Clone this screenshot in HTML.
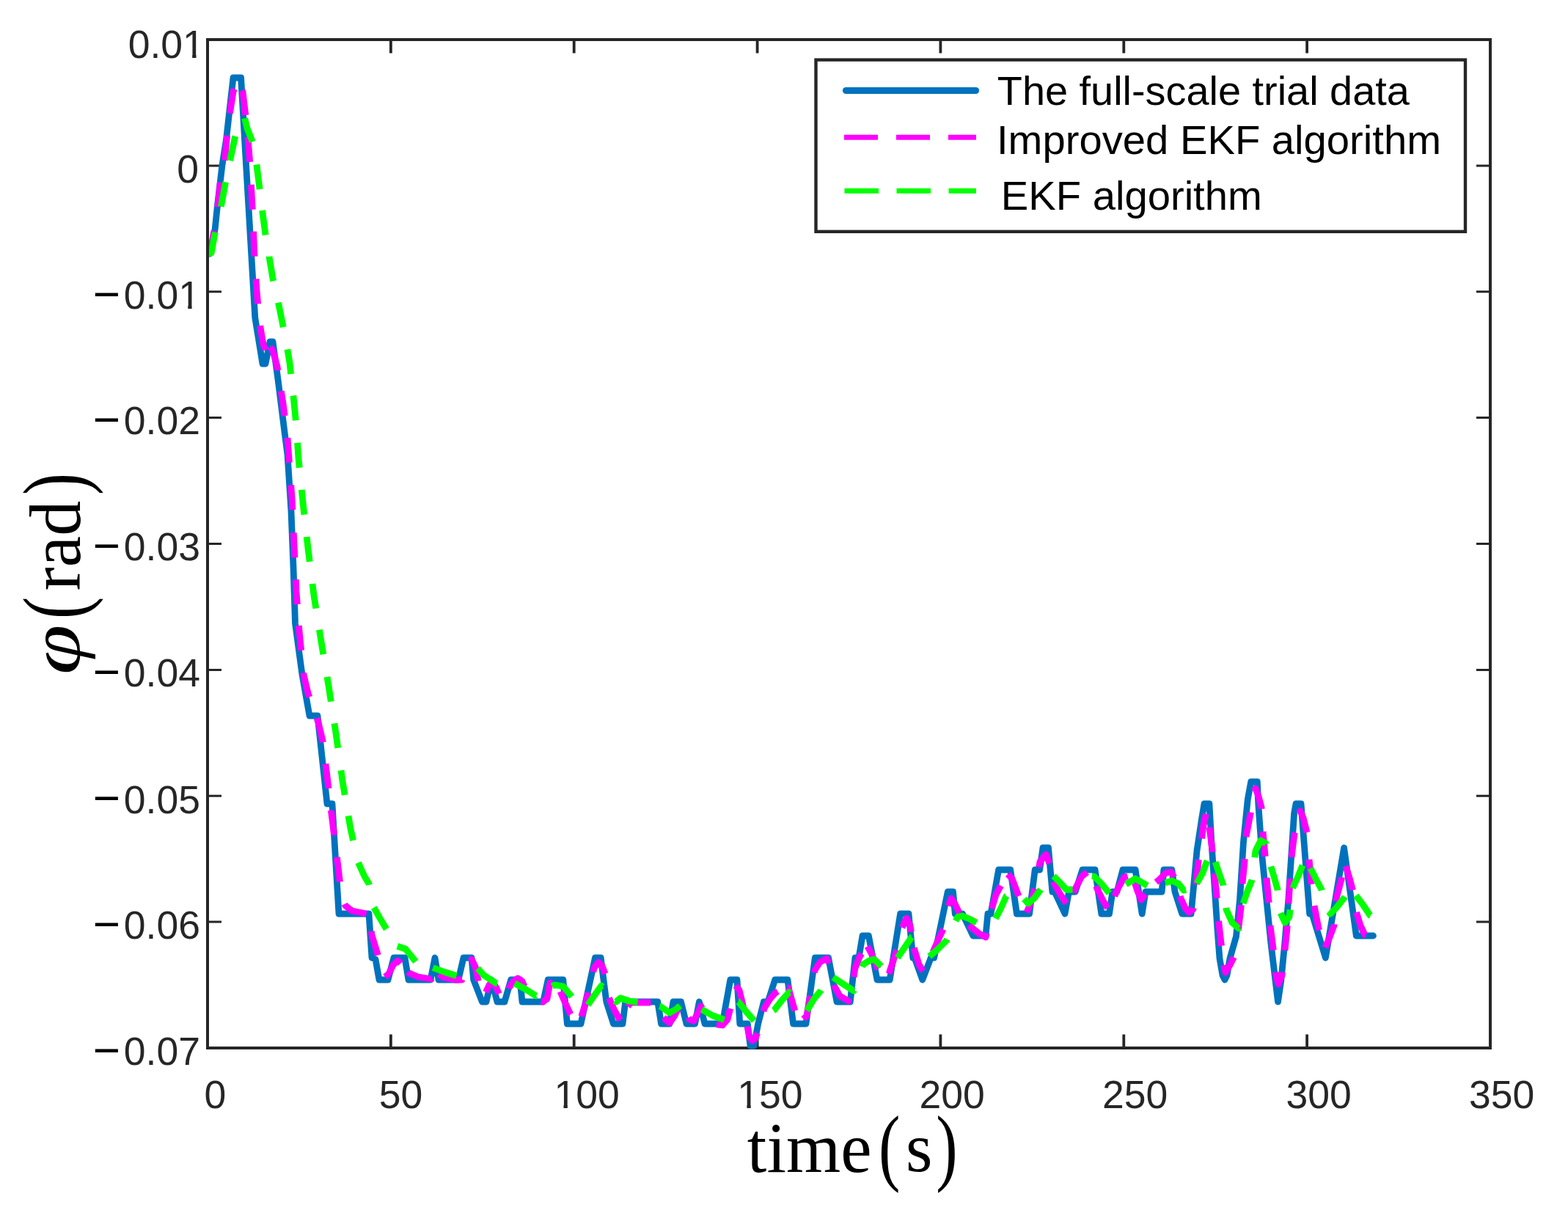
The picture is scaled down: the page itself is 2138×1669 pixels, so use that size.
<!DOCTYPE html>
<html><head><meta charset="utf-8"><title>phi vs time</title>
<style>html,body{margin:0;padding:0;background:#fff;width:2138px;height:1669px;overflow:hidden}svg{display:block}</style></head><body>
<svg width="2138" height="1669" viewBox="0 0 2138 1669">
<rect x="0" y="0" width="2138" height="1669" fill="#ffffff"/>
<path d="M283.0 1429V1410.5M283.0 54V72.5M532.9 1429V1410.5M532.9 54V72.5M782.7 1429V1410.5M782.7 54V72.5M1032.6 1429V1410.5M1032.6 54V72.5M1282.4 1429V1410.5M1282.4 54V72.5M1532.3 1429V1410.5M1532.3 54V72.5M1782.1 1429V1410.5M1782.1 54V72.5M2032.0 1429V1410.5M2032.0 54V72.5" stroke="#262626" stroke-width="3.8" fill="none"/>
<path d="M283 54.0H302M2032 54.0H2013M283 225.9H302M2032 225.9H2013M283 397.8H302M2032 397.8H2013M283 569.6H302M2032 569.6H2013M283 741.5H302M2032 741.5H2013M283 913.4H302M2032 913.4H2013M283 1085.2H302M2032 1085.2H2013M283 1257.1H302M2032 1257.1H2013M283 1429.0H302M2032 1429.0H2013" stroke="#262626" stroke-width="3" fill="none"/>
<rect x="283" y="54" width="1749" height="1375" fill="none" stroke="#262626" stroke-width="4"/>
<defs><clipPath id="cp"><rect x="283" y="52" width="1751" height="1379"/></clipPath></defs>
<g clip-path="url(#cp)" fill="none" stroke-linejoin="round">
<path d="M283.0 346.0L286.0 346.0L289.0 333.0L293.2 312.4L296.3 281.8L299.9 251.3L302.9 225.8L308.5 190.2L313.0 150.0L318.0 106.0L328.6 106.0L347.8 433.4L358.0 496.0L362.0 496.0L368.0 466.0L372.0 466.0L379.3 519.6L388.3 591.5L392.0 620.0L397.0 697.0L400.0 773.0L402.5 850.0L412.0 920.0L422.0 976.0L433.0 976.0L446.0 1096.0L453.0 1096.0L462.0 1246.0L503.0 1246.0L507.0 1306.0L512.0 1308.0L517.0 1336.0L529.0 1336.0L537.0 1306.0L552.0 1306.0L557.0 1336.0L587.0 1336.0L593.0 1306.0L598.0 1336.0L625.0 1336.0L632.0 1306.0L643.0 1306.0L645.7 1336.0L657.4 1366.0L663.0 1366.0L670.0 1336.0L678.0 1366.0L688.0 1366.0L696.7 1336.0L709.0 1336.0L712.0 1366.0L740.7 1366.0L747.2 1336.0L767.8 1336.0L773.4 1396.0L792.0 1396.0L811.5 1306.0L819.2 1306.0L826.8 1366.0L836.4 1396.0L849.0 1396.0L852.7 1366.0L896.8 1366.0L901.6 1396.0L913.0 1396.0L918.0 1366.0L928.5 1366.0L936.0 1396.0L947.6 1396.0L953.4 1366.0L961.0 1396.0L985.0 1396.0L995.8 1336.0L1005.0 1336.0L1008.8 1396.0L1019.3 1396.0L1023.0 1426.0L1028.0 1426.0L1033.7 1396.0L1041.4 1366.0L1047.0 1366.0L1056.7 1336.0L1074.0 1336.0L1081.6 1396.0L1099.0 1396.0L1111.3 1306.0L1129.6 1306.0L1141.0 1366.0L1159.3 1366.0L1166.0 1306.0L1171.0 1306.0L1176.0 1276.0L1184.4 1276.0L1196.0 1336.0L1213.2 1336.0L1227.6 1246.0L1239.0 1246.0L1244.8 1306.0L1247.0 1306.0L1257.8 1336.0L1269.3 1306.0L1273.6 1306.0L1292.3 1216.0L1299.5 1216.0L1302.3 1246.0L1312.4 1246.0L1326.8 1276.0L1344.0 1276.0L1346.9 1246.0L1351.0 1246.0L1361.6 1186.0L1377.7 1186.0L1386.4 1246.0L1403.6 1246.0L1411.2 1186.0L1417.6 1186.0L1422.0 1156.0L1429.5 1156.0L1434.9 1216.0L1438.0 1216.0L1452.0 1246.0L1457.5 1216.0L1466.2 1216.0L1475.9 1186.0L1493.1 1186.0L1501.8 1246.0L1512.5 1246.0L1516.9 1216.0L1523.0 1216.0L1530.9 1186.0L1548.1 1186.0L1557.2 1246.0L1562.0 1216.0L1584.1 1216.0L1586.9 1186.0L1597.9 1186.0L1602.0 1216.0L1611.7 1246.0L1624.1 1246.0L1628.0 1204.0L1632.0 1160.0L1638.5 1117.0L1642.0 1096.0L1648.9 1096.0L1652.0 1150.0L1656.0 1208.0L1660.0 1268.0L1663.0 1307.0L1667.0 1330.0L1670.0 1336.0L1673.0 1330.0L1677.0 1307.0L1685.5 1277.0L1690.4 1228.0L1695.4 1149.0L1701.3 1090.0L1705.7 1066.0L1714.3 1066.0L1716.0 1100.0L1721.0 1169.0L1727.0 1228.0L1733.0 1287.0L1739.0 1337.0L1742.5 1366.0L1746.8 1337.0L1751.7 1287.0L1756.7 1228.0L1760.6 1169.0L1764.6 1109.0L1767.0 1096.0L1774.0 1096.0L1785.6 1246.0L1789.0 1246.0L1807.4 1306.0L1832.6 1156.0L1849.3 1276.0L1872.5 1276.0" stroke="#0072BD" stroke-width="8.8" stroke-linecap="round"/>
<g stroke="#FF00FF" stroke-width="8.8" stroke-linecap="butt">
<path d="M283.0 346.0L287.0 344.0L291.0 320.0L296.8 282.3" stroke-dasharray="34.0 32.9"/>
<path d="M296.8 282.3L296.8 282.0L300.4 249.0L306.5 219.0L306.5 218.7" stroke-dasharray="34.0 30.4"/>
<path d="M306.5 218.7L309.5 186.0L313.4 154.5" stroke-dasharray="34.0 30.6"/>
<path d="M313.4 154.5L313.5 154.0L318.0 125.0L325.0 109.0L330.3 123.3" stroke-dasharray="34.0 28.5"/>
<path d="M330.3 123.3L331.0 125.0L337.0 175.0L337.9 186.9" stroke-dasharray="34.0 30.1"/>
<path d="M337.9 186.9L341.0 225.0L342.4 251.7" stroke-dasharray="34.0 31.0"/>
<path d="M342.4 251.7L345.0 300.0L345.6 315.6" stroke-dasharray="34.0 30.0"/>
<path d="M345.6 315.6L347.0 350.0L349.0 380.4" stroke-dasharray="34.0 30.9"/>
<path d="M349.0 380.4L350.0 396.0L354.0 440.0L354.7 444.1" stroke-dasharray="34.0 30.0"/>
<path d="M354.7 444.1L359.0 470.0L363.0 478.0L367.0 471.0L368.5 473.1" stroke-dasharray="34.0 11.9"/>
<path d="M368.5 473.1L372.0 478.0L378.0 500.0L383.3 533.3" stroke-dasharray="34.0 28.5"/>
<path d="M383.3 533.3L386.0 550.0L392.0 596.9" stroke-dasharray="34.0 30.2"/>
<path d="M392.0 596.9L392.0 597.0L395.0 640.0L396.7 661.3" stroke-dasharray="34.0 30.5"/>
<path d="M396.7 661.3L398.0 678.0L400.3 726.4" stroke-dasharray="34.0 31.2"/>
<path d="M400.3 726.4L401.0 742.0L403.3 790.2" stroke-dasharray="34.0 29.9"/>
<path d="M403.3 790.2L404.0 806.0L407.5 853.0" stroke-dasharray="34.0 29.0"/>
<path d="M407.5 853.0L408.0 860.0L413.7 917.4" stroke-dasharray="34.0 30.7"/>
<path d="M413.7 917.4L414.0 920.0L420.0 945.0L428.0 968.0L432.0 979.2" stroke-dasharray="34.0 30.5"/>
<path d="M432.0 979.2L434.0 985.0L440.0 1010.0L443.9 1041.5" stroke-dasharray="34.0 29.6"/>
<path d="M443.9 1041.5L446.0 1058.0L451.4 1105.0" stroke-dasharray="34.0 29.9"/>
<path d="M451.4 1105.0L452.0 1110.0L457.0 1150.0L459.4 1168.8" stroke-dasharray="34.0 30.4"/>
<path d="M459.4 1168.8L462.0 1190.0L466.0 1225.0L469.9 1232.7" stroke-dasharray="34.0 31.2"/>
<path d="M469.9 1232.7L471.0 1235.0L480.0 1242.0L495.0 1245.0L503.0 1247.0L506.3 1269.8" stroke-dasharray="34.0 26.5"/>
<path d="M506.3 1269.8L507.0 1275.0L514.0 1298.0L520.0 1318.0L525.0 1332.0" stroke-dasharray="34.0 31.0"/>
<path d="M525.0 1332.0L525.0 1332.0L530.0 1328.0L536.0 1316.0L542.0 1310.0L546.0 1313.0L552.0 1320.0L556.5 1325.2" stroke-dasharray="34.0 15.4"/>
<path d="M556.5 1325.2L558.0 1327.0L570.0 1332.0L588.0 1335.0L593.0 1318.0L598.0 1328.0L598.2 1328.1" stroke-dasharray="34.0 28.7"/>
<path d="M598.2 1328.1L605.0 1333.0L620.0 1336.0L630.0 1336.0L637.0 1318.0L641.6 1310.3" stroke-dasharray="34.0 28.0"/>
<path d="M641.6 1310.3L643.0 1308.0L648.0 1318.0L652.0 1337.0L657.0 1358.0L661.0 1356.0L662.5 1352.8" stroke-dasharray="34.0 28.8"/>
<path d="M662.5 1352.8L667.0 1343.0L672.0 1340.0L677.0 1347.0L682.0 1360.0L686.0 1366.0L690.0 1358.0L693.6 1348.0" stroke-dasharray="34.0 31.9"/>
<path d="M693.6 1348.0L694.0 1347.0L700.0 1338.0L706.0 1334.0L712.0 1338.0L718.0 1352.0L728.0 1362.0L738.0 1365.3" stroke-dasharray="34.0 32.3"/>
<path d="M738.0 1365.3L740.0 1366.0L746.0 1362.0L750.0 1340.0L755.0 1343.0L763.0 1350.0L763.9 1352.1" stroke-dasharray="34.0 16.4"/>
<path d="M763.9 1352.1L770.0 1366.0L778.0 1383.0L786.0 1390.0L792.0 1388.0L792.7 1386.0" stroke-dasharray="34.0 19.0"/>
<path d="M792.7 1386.0L798.0 1370.0L804.0 1345.0L808.8 1325.2" stroke-dasharray="34.0 28.9"/>
<path d="M808.8 1325.2L810.0 1320.0L816.0 1312.0L821.0 1317.0L826.0 1330.0L830.0 1360.0L830.4 1360.8" stroke-dasharray="34.0 33.5"/>
<path d="M830.4 1360.8L838.0 1378.0L846.0 1392.0L852.0 1378.0L856.1 1372.4" stroke-dasharray="34.0 23.1"/>
<path d="M856.1 1372.4L860.0 1367.0L890.0 1367.0L896.0 1372.0L903.0 1386.0L904.7 1387.5" stroke-dasharray="34.0 28.4"/>
<path d="M904.7 1387.5L913.0 1395.0L920.0 1385.0L927.0 1370.0L932.0 1376.0L938.7 1387.7" stroke-dasharray="34.0 27.2"/>
<path d="M938.7 1387.7L940.0 1390.0L946.0 1392.0L952.0 1380.0L956.0 1372.0L962.0 1385.0L970.0 1396.0L977.0 1396.9" stroke-dasharray="34.0 32.3"/>
<path d="M977.0 1396.9L985.0 1398.0L992.0 1390.0L997.0 1370.0L1003.0 1344.0" stroke-dasharray="34.0 32.0"/>
<path d="M1003.0 1344.0L1003.0 1344.0L1008.0 1350.0L1012.0 1366.0L1018.0 1395.0L1018.9 1399.6" stroke-dasharray="34.0 24.6"/>
<path d="M1018.9 1399.6L1022.0 1415.0L1026.0 1419.0L1030.0 1416.0L1034.0 1405.0L1041.0 1378.9" stroke-dasharray="34.0 31.0"/>
<path d="M1041.0 1378.9L1042.0 1375.0L1050.0 1362.0L1057.0 1354.0L1065.0 1349.0L1073.5 1347.3" stroke-dasharray="34.0 14.0"/>
<path d="M1073.5 1347.3L1075.0 1347.0L1080.0 1365.0L1085.0 1382.0L1095.0 1390.0L1095.5 1389.5" stroke-dasharray="34.0 17.5"/>
<path d="M1095.5 1389.5L1100.0 1385.0L1106.0 1350.0L1110.4 1326.3" stroke-dasharray="34.0 32.0"/>
<path d="M1110.4 1326.3L1111.0 1323.0L1118.0 1312.0L1127.0 1307.0L1133.0 1318.0L1137.6 1343.1" stroke-dasharray="34.0 30.7"/>
<path d="M1137.6 1343.1L1138.0 1345.0L1145.0 1358.0L1157.0 1365.0L1162.0 1345.0L1164.0 1332.3" stroke-dasharray="34.0 30.1"/>
<path d="M1164.0 1332.3L1166.0 1320.0L1172.0 1305.0L1178.0 1295.0L1182.0 1289.0L1182.8 1290.5" stroke-dasharray="34.0 15.3"/>
<path d="M1182.8 1290.5L1188.0 1300.0L1197.0 1321.0L1205.0 1332.0L1212.0 1328.0L1212.1 1327.7" stroke-dasharray="34.0 21.6"/>
<path d="M1212.1 1327.7L1218.0 1310.0L1223.0 1295.0L1230.0 1265.0L1230.1 1264.9" stroke-dasharray="34.0 31.4"/>
<path d="M1230.1 1264.9L1236.0 1252.0L1241.0 1262.0L1246.0 1292.0L1246.2 1292.6" stroke-dasharray="34.0 22.4"/>
<path d="M1246.2 1292.6L1253.0 1315.0L1259.0 1325.0L1265.0 1315.0L1272.0 1298.0" stroke-dasharray="34.0 31.2"/>
<path d="M1272.0 1298.0L1272.0 1298.0L1280.0 1280.0L1287.0 1265.0L1293.0 1235.0" stroke-dasharray="34.0 32.8"/>
<path d="M1293.0 1235.0L1293.0 1235.0L1297.0 1225.0L1302.0 1232.0L1308.0 1245.0L1320.0 1261.0L1321.0 1261.8" stroke-dasharray="34.0 20.9"/>
<path d="M1321.0 1261.8L1335.0 1273.0L1344.0 1278.0L1348.0 1262.0L1352.0 1240.0L1352.3 1239.1" stroke-dasharray="34.0 34.1"/>
<path d="M1352.3 1239.1L1358.0 1220.0L1366.0 1205.0L1373.0 1191.0L1374.0 1192.0" stroke-dasharray="34.0 20.0"/>
<path d="M1374.0 1192.0L1380.0 1198.0L1389.0 1222.0L1395.0 1240.0L1400.0 1244.0" stroke-dasharray="34.0 25.5"/>
<path d="M1400.0 1244.0L1400.0 1244.0L1405.0 1232.0L1411.0 1212.0L1416.6 1182.5" stroke-dasharray="34.0 29.9"/>
<path d="M1416.6 1182.5L1418.0 1175.0L1426.0 1165.0L1432.0 1180.0L1436.7 1202.6" stroke-dasharray="34.0 25.8"/>
<path d="M1436.7 1202.6L1437.0 1204.0L1446.0 1220.0L1454.0 1232.0L1460.0 1226.0L1463.9 1217.1" stroke-dasharray="34.0 18.4"/>
<path d="M1463.9 1217.1L1467.0 1210.0L1475.0 1195.0L1484.0 1188.0L1490.0 1196.0L1494.6 1208.2" stroke-dasharray="34.0 25.1"/>
<path d="M1494.6 1208.2L1496.0 1212.0L1505.0 1230.0L1511.0 1239.0L1517.0 1228.0L1519.7 1221.9" stroke-dasharray="34.0 20.3"/>
<path d="M1519.7 1221.9L1525.0 1210.0L1533.0 1196.0L1540.0 1194.0L1546.0 1200.0L1547.4 1204.2" stroke-dasharray="34.0 15.3"/>
<path d="M1547.4 1204.2L1551.0 1215.0L1556.0 1227.0L1561.0 1220.0L1570.0 1208.0L1576.3 1202.9" stroke-dasharray="34.0 22.1"/>
<path d="M1576.3 1202.9L1580.0 1200.0L1590.0 1190.0L1597.0 1189.0L1603.0 1200.0L1609.1 1222.0" stroke-dasharray="34.0 27.2"/>
<path d="M1609.1 1222.0L1610.0 1225.0L1616.0 1238.0L1621.3 1244.0L1627.0 1239.7L1631.0 1206.0" stroke-dasharray="34.0 32.6"/>
<path d="M1631.0 1206.0L1631.0 1206.0L1634.0 1175.0L1638.6 1143.4" stroke-dasharray="34.0 29.1"/>
<path d="M1638.6 1143.4L1638.6 1143.4L1641.0 1125.0L1644.0 1112.0L1646.0 1105.0L1648.0 1115.0L1649.0 1128.0" stroke-dasharray="34.0 28.4"/>
<path d="M1649.0 1128.0L1649.0 1128.0L1653.0 1159.0L1656.0 1191.0" stroke-dasharray="34.0 29.4"/>
<path d="M1656.0 1191.0L1656.0 1191.0L1659.0 1222.0L1661.6 1256.0" stroke-dasharray="34.0 31.2"/>
<path d="M1661.6 1256.0L1661.6 1256.0L1665.0 1286.0L1668.5 1316.0" stroke-dasharray="34.0 26.4"/>
<path d="M1668.5 1316.0L1668.5 1316.0L1671.0 1326.0L1677.0 1316.0L1684.5 1301.0L1688.5 1268.0" stroke-dasharray="34.0 38.0"/>
<path d="M1688.5 1268.0L1688.5 1268.0L1692.0 1238.0L1694.0 1205.2" stroke-dasharray="34.0 29.1"/>
<path d="M1694.0 1205.2L1694.0 1205.0L1697.0 1175.0L1699.0 1141.0" stroke-dasharray="34.0 30.4"/>
<path d="M1699.0 1141.0L1699.0 1141.0L1705.0 1110.0L1709.0 1080.0L1709.6 1079.0" stroke-dasharray="34.0 29.0"/>
<path d="M1709.6 1079.0L1712.0 1075.0L1716.0 1086.0L1720.0 1101.0L1722.0 1133.9" stroke-dasharray="34.0 30.9"/>
<path d="M1722.0 1133.9L1722.0 1134.0L1725.0 1166.0L1727.0 1196.9" stroke-dasharray="34.0 29.2"/>
<path d="M1727.0 1196.9L1727.0 1197.0L1730.0 1229.0L1732.0 1261.9" stroke-dasharray="34.0 31.2"/>
<path d="M1732.0 1261.9L1732.0 1262.0L1736.0 1293.0L1739.0 1325.9" stroke-dasharray="34.0 30.4"/>
<path d="M1739.0 1325.9L1739.0 1326.0L1743.0 1342.0L1748.0 1330.0L1752.0 1296.0" stroke-dasharray="34.0 29.8"/>
<path d="M1752.0 1296.0L1752.0 1296.0L1755.0 1266.0L1757.0 1232.0" stroke-dasharray="34.0 30.2"/>
<path d="M1757.0 1232.0L1757.0 1232.0L1759.0 1201.0L1761.0 1169.0" stroke-dasharray="34.0 29.1"/>
<path d="M1761.0 1169.0L1761.0 1169.0L1765.0 1137.0L1770.0 1110.0L1771.0 1108.7" stroke-dasharray="34.0 27.3"/>
<path d="M1771.0 1108.7L1773.0 1106.0L1777.0 1115.0L1783.0 1139.0L1785.0 1171.9" stroke-dasharray="34.0 37.0"/>
<path d="M1785.0 1171.9L1785.0 1172.0L1788.0 1204.0L1792.0 1235.0" stroke-dasharray="34.0 29.5"/>
<path d="M1792.0 1235.0L1792.0 1235.0L1798.0 1266.0L1803.0 1285.0L1807.0 1292.0" stroke-dasharray="34.0 25.3"/>
<path d="M1807.0 1292.0L1807.0 1292.0L1813.0 1278.0L1819.0 1262.0L1821.0 1229.0" stroke-dasharray="34.0 31.4"/>
<path d="M1821.0 1229.0L1821.0 1229.0L1825.0 1214.0L1829.0 1199.0L1832.5 1176.0L1835.0 1181.0" stroke-dasharray="34.0 25.9"/>
<path d="M1835.0 1181.0L1835.0 1181.0L1840.0 1197.0L1844.0 1212.0L1849.5 1244.0" stroke-dasharray="34.0 30.8"/>
<path d="M1849.5 1244.0L1849.5 1244.0L1855.0 1262.0L1861.0 1274.6L1872.0 1276.0" stroke-dasharray="34.0 30.0"/>
</g>
<g stroke="#00FF00" stroke-width="8.8" stroke-linecap="butt">
<path d="M283.0 346.0L288.1 345.0L294.3 311.4L301.4 281.8" stroke-dasharray="34.0 35.8"/>
<path d="M301.4 281.8L301.4 281.8L307.5 248.7L313.6 219.0" stroke-dasharray="34.0 30.0"/>
<path d="M313.6 219.0L313.6 219.0L320.7 186.0L325.0 170.0L329.0 158.0L333.7 161.2" stroke-dasharray="34.0 34.7"/>
<path d="M333.7 161.2L333.7 161.2L337.0 175.0L345.0 195.0L349.9 224.4" stroke-dasharray="34.0 31.6"/>
<path d="M349.9 224.4L350.0 225.0L354.0 257.0L357.6 286.9" stroke-dasharray="34.0 29.0"/>
<path d="M357.6 286.9L358.0 290.0L362.0 320.0L367.0 349.8" stroke-dasharray="34.0 29.6"/>
<path d="M367.0 349.8L367.0 350.0L372.0 380.0L378.0 405.0L379.5 412.7" stroke-dasharray="34.0 30.1"/>
<path d="M379.5 412.7L384.0 435.0L390.0 465.0L391.9 476.4" stroke-dasharray="34.0 30.9"/>
<path d="M391.9 476.4L395.0 495.0L399.9 539.4" stroke-dasharray="34.0 29.6"/>
<path d="M399.9 539.4L400.0 540.0L404.0 580.0L405.6 603.9" stroke-dasharray="34.0 30.8"/>
<path d="M405.6 603.9L407.0 625.0L411.3 667.9" stroke-dasharray="34.0 30.3"/>
<path d="M411.3 667.9L413.0 685.0L418.2 732.1" stroke-dasharray="34.0 30.6"/>
<path d="M418.2 732.1L420.0 748.0L426.0 796.0" stroke-dasharray="34.0 30.3"/>
<path d="M426.0 796.0L428.0 812.0L435.4 858.7" stroke-dasharray="34.0 29.5"/>
<path d="M435.4 858.7L438.0 875.0L446.0 923.0" stroke-dasharray="34.0 31.1"/>
<path d="M446.0 923.0L448.0 935.0L455.9 986.3" stroke-dasharray="34.0 30.1"/>
<path d="M455.9 986.3L458.0 1000.0L465.0 1050.4" stroke-dasharray="34.0 30.8"/>
<path d="M465.0 1050.4L467.0 1065.0L475.0 1112.6" stroke-dasharray="34.0 28.9"/>
<path d="M475.0 1112.6L478.0 1130.0L488.0 1175.0L488.5 1176.2" stroke-dasharray="34.0 31.1"/>
<path d="M488.5 1176.2L497.0 1195.0L503.0 1205.0L509.0 1236.0L509.8 1237.5" stroke-dasharray="34.0 31.6"/>
<path d="M509.8 1237.5L518.0 1252.0L527.0 1267.0L538.0 1289.0L541.8 1290.3" stroke-dasharray="34.0 28.8"/>
<path d="M541.8 1290.3L553.0 1294.0L569.0 1314.0L589.0 1319.0L590.3 1319.5" stroke-dasharray="34.0 25.4"/>
<path d="M590.3 1319.5L605.0 1325.0L624.0 1331.0L635.0 1325.0L649.0 1318.0L651.3 1320.5" stroke-dasharray="34.0 33.1"/>
<path d="M651.3 1320.5L660.0 1330.0L677.0 1341.0L690.0 1343.0L700.0 1340.0L701.7 1340.9" stroke-dasharray="34.0 24.7"/>
<path d="M701.7 1340.9L715.0 1348.0L731.0 1358.0L745.0 1350.0L752.9 1344.9" stroke-dasharray="34.0 25.5"/>
<path d="M752.9 1344.9L756.0 1343.0L768.0 1345.0L783.0 1363.0L795.0 1374.0L801.0 1371.0L801.5 1370.3" stroke-dasharray="34.0 29.1"/>
<path d="M801.5 1370.3L810.0 1358.0L820.0 1344.0L830.0 1355.0L838.7 1364.6" stroke-dasharray="34.0 25.9"/>
<path d="M838.7 1364.6L840.0 1366.0L846.0 1361.0L858.0 1365.0L872.0 1367.0L886.0 1369.0L899.2 1371.8" stroke-dasharray="34.0 30.2"/>
<path d="M899.2 1371.8L900.0 1372.0L913.0 1381.0L922.0 1376.0L930.0 1369.0L942.0 1371.0L956.0 1376.0L956.8 1376.4" stroke-dasharray="34.0 31.4"/>
<path d="M956.8 1376.4L972.0 1385.0L989.0 1391.0L995.0 1378.0L1000.0 1365.0L1006.5 1365.9" stroke-dasharray="34.0 36.3"/>
<path d="M1006.5 1365.9L1007.0 1366.0L1018.0 1380.0L1031.0 1395.0L1043.0 1386.0L1054.6 1377.9" stroke-dasharray="34.0 33.3"/>
<path d="M1054.6 1377.9L1056.0 1377.0L1066.0 1364.0L1076.0 1353.0L1087.0 1368.0L1099.0 1380.0L1100.2 1378.1" stroke-dasharray="34.0 36.7"/>
<path d="M1100.2 1378.1L1110.0 1362.0L1119.0 1351.0L1128.0 1335.0L1135.0 1332.0L1135.9 1332.6" stroke-dasharray="34.0 26.2"/>
<path d="M1135.9 1332.6L1150.0 1342.0L1164.0 1351.0L1170.0 1330.0L1175.5 1318.3" stroke-dasharray="34.0 34.3"/>
<path d="M1175.5 1318.3L1177.0 1315.0L1185.0 1310.0L1192.0 1308.0L1206.0 1322.0L1214.0 1318.0L1223.0 1307.0L1223.8 1305.9" stroke-dasharray="34.0 30.7"/>
<path d="M1223.8 1305.9L1243.0 1278.0L1250.0 1276.0L1258.0 1292.0L1266.0 1305.0L1267.1 1304.1" stroke-dasharray="34.0 41.7"/>
<path d="M1267.1 1304.1L1278.0 1295.0L1291.0 1282.0L1300.0 1262.0L1303.1 1255.8" stroke-dasharray="34.0 27.5"/>
<path d="M1303.1 1255.8L1306.0 1250.0L1312.0 1249.0L1322.0 1253.0L1335.0 1260.0L1345.0 1262.0L1356.0 1255.0L1357.4 1252.5" stroke-dasharray="34.0 30.2"/>
<path d="M1357.4 1252.5L1364.0 1240.0L1372.0 1222.0L1384.0 1215.0L1393.0 1222.0L1396.4 1225.8" stroke-dasharray="34.0 30.2"/>
<path d="M1396.4 1225.8L1402.0 1232.0L1410.0 1225.0L1419.0 1213.0L1428.0 1198.0L1435.0 1193.0L1436.5 1194.5" stroke-dasharray="34.0 28.2"/>
<path d="M1436.5 1194.5L1445.0 1203.0L1454.0 1213.0L1463.0 1213.0L1475.0 1202.0L1486.0 1194.0L1488.9 1194.5" stroke-dasharray="34.0 33.3"/>
<path d="M1488.9 1194.5L1492.0 1195.0L1502.0 1205.0L1514.0 1220.0L1525.0 1214.0L1535.0 1206.0L1535.3 1205.8" stroke-dasharray="34.0 28.1"/>
<path d="M1535.3 1205.8L1548.0 1198.0L1560.0 1205.0L1572.0 1212.0L1585.0 1205.0L1588.9 1203.8" stroke-dasharray="34.0 27.6"/>
<path d="M1588.9 1203.8L1598.0 1201.0L1607.0 1205.0L1614.0 1214.0L1622.0 1212.0L1631.0 1206.0L1631.8 1204.6" stroke-dasharray="34.0 17.4"/>
<path d="M1631.8 1204.6L1640.0 1190.0L1645.0 1176.0L1651.0 1163.0L1657.0 1175.0L1657.1 1175.4" stroke-dasharray="34.0 25.8"/>
<path d="M1657.1 1175.4L1662.0 1190.0L1668.0 1207.0L1671.7 1237.8" stroke-dasharray="34.0 30.4"/>
<path d="M1671.7 1237.8L1672.0 1240.0L1680.0 1258.0L1689.0 1266.0L1695.0 1232.0L1695.1 1231.7" stroke-dasharray="34.0 34.8"/>
<path d="M1695.1 1231.7L1701.0 1215.0L1707.0 1200.0L1710.8 1169.2" stroke-dasharray="34.0 30.9"/>
<path d="M1710.8 1169.2L1712.0 1160.0L1719.0 1146.0L1726.0 1150.0L1731.0 1175.0L1732.9 1181.4" stroke-dasharray="34.0 31.2"/>
<path d="M1732.9 1181.4L1737.0 1195.0L1742.0 1213.0L1746.0 1245.0" stroke-dasharray="34.0 31.1"/>
<path d="M1746.0 1245.0L1746.0 1245.0L1752.0 1258.0L1758.0 1250.0L1762.0 1212.0L1762.5 1211.0" stroke-dasharray="34.0 29.6"/>
<path d="M1762.5 1211.0L1770.0 1195.0L1776.0 1180.0L1780.0 1170.0L1785.0 1180.0L1786.9 1183.8" stroke-dasharray="34.0 26.1"/>
<path d="M1786.9 1183.8L1794.0 1198.0L1802.0 1213.0L1808.0 1235.0L1812.4 1243.1" stroke-dasharray="34.0 30.9"/>
<path d="M1812.4 1243.1L1814.0 1246.0L1822.0 1238.0L1833.0 1224.0L1840.0 1212.0L1848.0 1220.0L1848.9 1221.1" stroke-dasharray="34.0 25.0"/>
<path d="M1848.9 1221.1L1858.0 1233.0L1868.0 1248.0L1872.0 1250.0" stroke-dasharray="34.0 30.0"/>
</g>
</g>
<path d="M283 52V1431" stroke="#262626" stroke-width="4"/>
<g font-family="Liberation Sans, Arial, sans-serif" font-size="53.5" fill="#262626">
<text x="278.53" y="1510.5">0</text>
<text x="516.75" y="1510.5">50</text>
<text x="755.38" y="1510.5" clip-path="url(#c1_1)">100</text>
<text x="1005.28" y="1510.5" clip-path="url(#c1_2)">150</text>
<text x="1253.38" y="1510.5">200</text>
<text x="1502.98" y="1510.5">250</text>
<text x="1753.38" y="1510.5">300</text>
<text x="2003.08" y="1510.5">350</text>
</g>
<g font-family="Liberation Sans, Arial, sans-serif" font-size="53.5" fill="#262626">
<text x="174.70" y="78.5" clip-path="url(#c1_3)">0.01</text>
<text x="241.30" y="249">0</text>
<text x="168.80" y="420.5" clip-path="url(#c1_4)">0.01</text>
<text x="168.80" y="591.5">0.02</text>
<text x="168.80" y="763.5">0.03</text>
<text x="168.80" y="935.9">0.04</text>
<text x="168.80" y="1108.6">0.05</text>
<text x="168.80" y="1279.6">0.06</text>
<text x="168.80" y="1451.5">0.07</text>
</g>
<defs><clipPath id="c1_1"><rect x="750.38" y="1457.00" width="8.21" height="69.55"/><rect x="768.49" y="1457.00" width="5.35" height="69.55"/><rect x="783.20" y="1457.00" width="66.42" height="69.55"/><rect x="750.38" y="1457.00" width="99.24" height="49.49"/></clipPath><clipPath id="c1_2"><rect x="1000.28" y="1457.00" width="8.21" height="69.55"/><rect x="1018.39" y="1457.00" width="5.35" height="69.55"/><rect x="1033.10" y="1457.00" width="66.42" height="69.55"/><rect x="1000.28" y="1457.00" width="99.24" height="49.49"/></clipPath><clipPath id="c1_3"><rect x="169.70" y="25.00" width="82.58" height="69.55"/><rect x="262.17" y="25.00" width="5.35" height="69.55"/><rect x="276.88" y="25.00" width="6.93" height="69.55"/><rect x="169.70" y="25.00" width="114.11" height="49.49"/></clipPath><clipPath id="c1_4"><rect x="163.80" y="367.00" width="82.58" height="69.55"/><rect x="256.27" y="367.00" width="5.35" height="69.55"/><rect x="270.99" y="367.00" width="6.93" height="69.55"/><rect x="163.80" y="367.00" width="114.11" height="49.49"/></clipPath></defs>
<g font-family="Liberation Sans, Arial, sans-serif" font-size="64" fill="#000">
<text x="126.8" y="422.6">&#8722;</text>
<text x="126.8" y="594.4">&#8722;</text>
<text x="126.8" y="766.3">&#8722;</text>
<text x="126.8" y="938.2">&#8722;</text>
<text x="126.8" y="1110.0">&#8722;</text>
<text x="126.8" y="1281.9">&#8722;</text>
<text x="126.8" y="1453.8">&#8722;</text>
</g>
<text transform="translate(1018.87,1597.55) scale(0.9791,1)" font-family='"Liberation Serif", "Times New Roman", serif' font-size="97.49" fill="#000">time</text>
<text transform="translate(1198.02,1601.75) scale(0.7603,1)" font-family='"Liberation Serif", "Times New Roman", serif' font-size="116.24" fill="#000">(</text>
<text transform="translate(1235.06,1597.38) scale(0.9914,1)" font-family='"Liberation Serif", "Times New Roman", serif' font-size="94.40" fill="#000">s</text>
<text transform="translate(1276.15,1601.75) scale(0.7603,1)" font-family='"Liberation Serif", "Times New Roman", serif' font-size="116.24" fill="#000">)</text>
<g transform="rotate(-90)"><text transform="translate(-919.88,108.52) scale(1.2476,1)" font-family='"Liberation Serif", "Times New Roman", serif' font-size="99.04" font-style="italic" fill="#000">φ</text></g>
<g transform="rotate(-90)"><text transform="translate(-843.99,114.94) scale(0.7499,1)" font-family='"Liberation Serif", "Times New Roman", serif' font-size="120.98" fill="#000">(</text></g>
<g transform="rotate(-90)"><text transform="translate(-805.42,109.33) scale(0.9706,1)" font-family='"Liberation Serif", "Times New Roman", serif' font-size="98.92" fill="#000">rad</text></g>
<g transform="rotate(-90)"><text transform="translate(-674.91,114.94) scale(0.7466,1)" font-family='"Liberation Serif", "Times New Roman", serif' font-size="120.98" fill="#000">)</text></g>
<rect x="1112.5" y="81.6" width="885.5" height="234.20000000000002" fill="#fff" stroke="#262626" stroke-width="4.4"/>
<path d="M1153.4 123.5H1330.6" stroke="#0072BD" stroke-width="9" stroke-linecap="round"/>
<path d="M1151 187.3H1331" stroke="#FF00FF" stroke-width="7" stroke-dasharray="46 25"/>
<path d="M1151.5 260.3H1331" stroke="#00FF00" stroke-width="7" stroke-dasharray="46.5 24.5"/>
<g font-family="Liberation Sans, Arial, sans-serif" font-size="55.5" fill="#000">
<text x="1359.8" y="143" textLength="562" lengthAdjust="spacingAndGlyphs">The full-scale trial data</text>
<text x="1359" y="209.8" textLength="606" lengthAdjust="spacingAndGlyphs">Improved EKF algorithm</text>
<text x="1364.8" y="286.4" textLength="356" lengthAdjust="spacingAndGlyphs">EKF algorithm</text>
</g>
</svg></body></html>
